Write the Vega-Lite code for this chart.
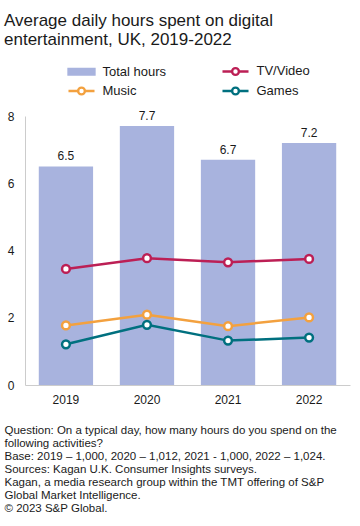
{
  "$schema": "https://vega.github.io/schema/vega-lite/v6.json",
  "autosize": "none",
  "width": 325,
  "height": 269,
  "padding": {"left": 25, "top": 116, "right": 10, "bottom": 141},
  "background": "white",
  "title": {
    "text": ["Average daily hours spent on digital", "entertainment, UK, 2019-2022"],
    "anchor": "start",
    "frame": "group",
    "orient": "top",
    "dx": -21,
    "offset": 11,
    "font": "Liberation Sans",
    "fontSize": 17,
    "fontWeight": "normal",
    "lineHeight": 19,
    "color": "#1a1a1a"
  },
  "config": {
    "view": {"stroke": null},
    "font": "Liberation Sans"
  },
  "data": {
    "values": [
      {"year": "2019", "series": "Total hours", "value": 6.5},
      {"year": "2020", "series": "Total hours", "value": 7.7},
      {"year": "2021", "series": "Total hours", "value": 6.7},
      {"year": "2022", "series": "Total hours", "value": 7.2},
      {"year": "2019", "series": "TV/Video", "value": 3.45},
      {"year": "2020", "series": "TV/Video", "value": 3.77},
      {"year": "2021", "series": "TV/Video", "value": 3.65},
      {"year": "2022", "series": "TV/Video", "value": 3.75},
      {"year": "2019", "series": "Music", "value": 1.77},
      {"year": "2020", "series": "Music", "value": 2.09},
      {"year": "2021", "series": "Music", "value": 1.75},
      {"year": "2022", "series": "Music", "value": 2.01},
      {"year": "2019", "series": "Games", "value": 1.21},
      {"year": "2020", "series": "Games", "value": 1.79},
      {"year": "2021", "series": "Games", "value": 1.32},
      {"year": "2022", "series": "Games", "value": 1.41}
    ]
  },
  "encoding": {
    "x": {
      "field": "year",
      "type": "nominal",
      "scale": {"paddingInner": 0.33, "paddingOuter": 0.17},
      "axis": {
        "labelAngle": 0,
        "labelFontSize": 12,
        "labelColor": "#1a1a1a",
        "labelPadding": 9,
        "ticks": false,
        "domainColor": "#cccccc",
        "title": [
          "Question: On a typical day, how many hours do you spend on the",
          "following activities?",
          "Base: 2019 – 1,000, 2020 – 1,012, 2021 - 1,000, 2022 – 1,024.",
          "Sources: Kagan U.K. Consumer Insights surveys.",
          "Kagan, a media research group within the TMT offering of S&P",
          "Global Market Intelligence.",
          "© 2023 S&P Global."
        ],
        "titleFontSize": 11.5,
        "titleFontWeight": "normal",
        "titleColor": "#1a1a1a",
        "titleLineHeight": 13,
        "titleAnchor": "start",
        "titleAlign": "left",
        "titleBaseline": "top",
        "titleX": -21,
        "titleY": 39
      }
    },
    "y": {
      "field": "value",
      "type": "quantitative",
      "scale": {"domain": [0, 8]},
      "axis": {
        "values": [0, 2, 4, 6, 8],
        "title": null,
        "grid": false,
        "ticks": false,
        "labelFontSize": 12,
        "labelColor": "#1a1a1a",
        "labelPadding": 11,
        "domainColor": "#cccccc"
      }
    },
    "color": {
      "field": "series",
      "type": "nominal",
      "scale": {
        "domain": ["Total hours", "TV/Video", "Music", "Games"],
        "range": ["#A8B3DE", "#BC1F55", "#F3A13F", "#00707F"]
      },
      "legend": {
        "title": null,
        "orient": "none",
        "direction": "horizontal",
        "legendX": 42,
        "legendY": -56,
        "columns": 2,
        "columnPadding": 50,
        "rowPadding": 0,
        "labelFontSize": 13,
        "labelColor": "#1a1a1a",
        "symbolOffset": 3.5,
        "labelOffset": 10,
        "symbolSize": 361,
        "symbolStrokeWidth": 2.3,
        "encode": {
          "symbols": {
            "update": {
              "shape": {"signal": "datum.value === 'Total hours' ? 'M-1.37,-0.3H1.37V0.3H-1.37Z' : 'M-1.37,0H-0.37M0.37,0H1.37M0.363,0A0.363,0.363,0,1,1,-0.363,0A0.363,0.363,0,1,1,0.363,0ZM0.353,0A0.353,0.353,0,1,0,-0.353,0A0.353,0.353,0,1,0,0.353,0Z'"},
              "fill": {"signal": "scale('color', datum.value)"},
              "stroke": {"signal": "datum.value === 'Total hours' ? 'transparent' : scale('color', datum.value)"},
              "strokeWidth": {"value": 2.3},
              "opacity": {"value": 1},
              "fillOpacity": {"value": 1}
            }
          }
        }
      }
    }
  },
  "layer": [
    {
      "transform": [{"filter": "datum.series === 'Total hours'"}],
      "mark": {"type": "bar"}
    },
    {
      "transform": [{"filter": "datum.series === 'Total hours'"}],
      "mark": {"type": "text", "dy": -10, "fontSize": 12, "color": "#1a1a1a"},
      "encoding": {
        "text": {"field": "value", "type": "quantitative", "format": ".1f"},
        "color": {"value": "#1a1a1a"}
      }
    },
    {
      "transform": [{"filter": "datum.series !== 'Total hours'"}],
      "mark": {"type": "line", "strokeWidth": 2.5}
    },
    {
      "transform": [{"filter": "datum.series !== 'Total hours'"}],
      "mark": {"type": "point", "filled": false, "fill": "white", "fillOpacity": 1, "opacity": 1, "strokeWidth": 2.5, "size": 60}
    }
  ]
}
